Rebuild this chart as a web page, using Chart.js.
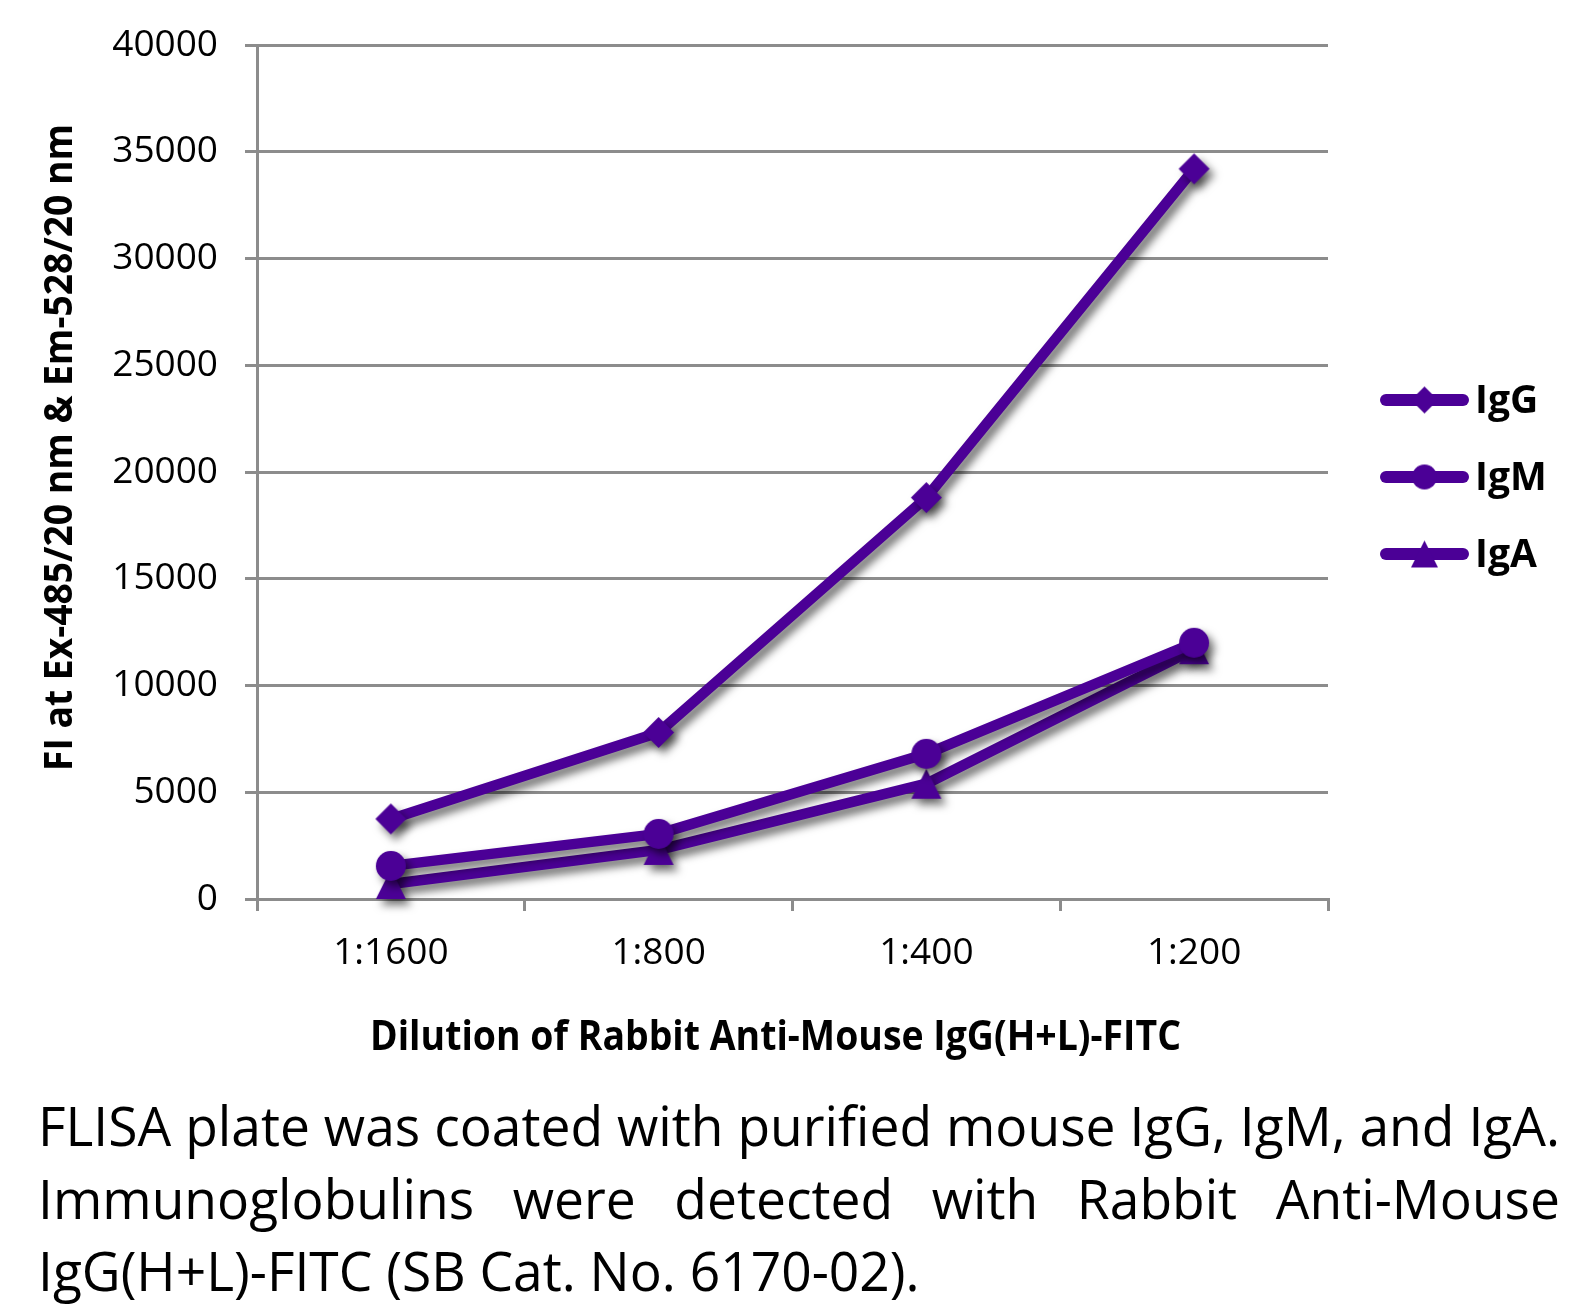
<!DOCTYPE html>
<html>
<head>
<meta charset="utf-8">
<script src="https://cdn.jsdelivr.net/npm/chart.js@4.4.0/dist/chart.umd.min.js"></script>
<style>
html,body{margin:0;padding:0;background:#fff;}
#wrap{position:relative;width:1590px;height:1306px;overflow:hidden;background:#fff;}
#c{position:absolute;left:0;top:0;}
.cap{position:absolute;left:38px;font-family:'Open Sans',sans-serif;font-size:55px;line-height:72.5px;height:72.5px;color:#000;transform-origin:0 0;white-space:nowrap;}
</style>
</head>
<body>
<div id="wrap">
<canvas id="c" width="1590" height="1306"></canvas>
</div>
<script>
// ---- data ----
const categories = ['1:1600', '1:800', '1:400', '1:200'];
const seriesNames = ['IgG', 'IgM', 'IgA'];
const igG = [3750, 7800, 18800, 34200];
const igM = [1550, 3050, 6800, 12000];
const igA = [700, 2300, 5400, 11700];
const yTickValues = [0, 5000, 10000, 15000, 20000, 25000, 30000, 35000, 40000];
const yTitle = 'FI at Ex-485/20 nm & Em-528/20 nm';
const xTitle = 'Dilution of Rabbit Anti-Mouse IgG(H+L)-FITC';
const captionLines = [
  'FLISA plate was coated with purified mouse IgG, IgM, and IgA.',
  'Immunoglobulins were detected with Rabbit Anti-Mouse',
  'IgG(H+L)-FITC (SB Cat. No. 6170-02).'
];

// ---- style ----
const PURPLE = '#4b0096';
const GRID = '#8c8c8c';

function makeMarker(type, size) {
  const cv = document.createElement('canvas');
  cv.width = size + 2; cv.height = size + 2;
  const g = cv.getContext('2d');
  const c = (size + 2) / 2, h = size / 2;
  g.fillStyle = PURPLE;
  g.beginPath();
  if (type === 'diamond') {
    g.moveTo(c, c - h); g.lineTo(c + h, c); g.lineTo(c, c + h); g.lineTo(c - h, c);
  } else if (type === 'circle') {
    g.arc(c, c, h, 0, Math.PI * 2);
  } else {
    g.moveTo(c, c - h); g.lineTo(c + h, c + h); g.lineTo(c - h, c + h);
  }
  g.closePath();
  g.fill();
  return cv;
}
const chartMarkers = [makeMarker('diamond', 31), makeMarker('circle', 30), makeMarker('triangle', 30)];
const legendMarkers = [makeMarker('diamond', 27), makeMarker('circle', 25), makeMarker('triangle', 27)];

const shadowPlugin = {
  id: 'shadow',
  beforeDatasetsDraw(chart) {
    const c = chart.ctx;
    c.save();
    c.shadowColor = 'rgba(0,0,0,0.55)';
    c.shadowBlur = 8;
    c.shadowOffsetX = 5;
    c.shadowOffsetY = 6;
  },
  afterDatasetsDraw(chart) { chart.ctx.restore(); }
};

const textPlugin = {
  id: 'texts',
  afterDraw(chart) {
    const ctx = chart.ctx;
    // y title
    ctx.save();
    ctx.fillStyle = '#000';
    ctx.font = 'bold 40px "Open Sans"';
    let w = ctx.measureText(yTitle).width;
    ctx.translate(72, 447.5);
    ctx.rotate(-Math.PI / 2);
    ctx.scale(647 / w, 1);
    ctx.textAlign = 'center';
    ctx.textBaseline = 'alphabetic';
    ctx.fillText(yTitle, 0, 0);
    ctx.restore();
    // x title
    ctx.save();
    ctx.fillStyle = '#000';
    ctx.font = 'bold 42px "Open Sans"';
    w = ctx.measureText(xTitle).width;
    ctx.translate(775.5, 1050);
    ctx.scale(811 / w, 1);
    ctx.textAlign = 'center';
    ctx.textBaseline = 'alphabetic';
    ctx.fillText(xTitle, 0, 0);
    ctx.restore();
    // legend
    ctx.save();
    chart.data.datasets.forEach((ds, i) => {
      const cy = 400 + i * 77;
      ctx.strokeStyle = PURPLE;
      ctx.lineWidth = 12;
      ctx.lineCap = 'round';
      ctx.beginPath();
      ctx.moveTo(1386, cy);
      ctx.lineTo(1463, cy);
      ctx.stroke();
      const m = legendMarkers[i];
      ctx.drawImage(m, 1424.5 - m.width / 2, cy - m.height / 2);
      ctx.fillStyle = '#000';
      ctx.font = 'bold 39px "Open Sans"';
      ctx.textAlign = 'left';
      ctx.textBaseline = 'alphabetic';
      ctx.fillText(ds.label, 1475, cy + 13);
    });
    ctx.restore();
  }
};

const series = [igG, igM, igA];
const datasets = series.map((d, i) => ({
  label: seriesNames[i],
  data: d,
  borderColor: PURPLE,
  backgroundColor: PURPLE,
  borderWidth: 10.5,
  borderJoinStyle: 'round',
  pointStyle: chartMarkers[i],
  pointRadius: 15,
  pointHoverRadius: 15,
  tension: 0,
  clip: false
}));

new Chart(document.getElementById('c'), {
  type: 'line',
  data: { labels: categories, datasets: datasets },
  options: {
    responsive: false,
    animation: false,
    events: [],
    layout: { padding: { left: 0, right: 262, top: 45, bottom: 0 } },
    plugins: { legend: { display: false }, tooltip: { enabled: false }, title: { display: false } },
    scales: {
      x: {
        type: 'category',
        offset: true,
        grid: { offset: true, drawOnChartArea: false, drawTicks: true, tickLength: 12, color: GRID, lineWidth: 3 },
        border: { display: true, color: GRID, width: 3 },
        ticks: { color: '#000', font: { family: 'Open Sans', size: 37 }, padding: 20, maxRotation: 0 },
        afterFit(s) { s.height = 407; }
      },
      y: {
        min: 0, max: 40000,
        afterBuildTicks(s) { s.ticks = yTickValues.map(v => ({ value: v })); },
        grid: { drawOnChartArea: true, drawTicks: true, tickLength: 12, color: GRID, lineWidth: 3 },
        border: { display: true, color: GRID, width: 3 },
        ticks: { color: '#000', font: { family: 'Open Sans', size: 37, lineHeight: 0.8 }, padding: 27, callback: v => String(v) },
        afterFit(s) { s.width = 257; }
      }
    }
  },
  plugins: [shadowPlugin, textPlugin]
});

// caption
const wrap = document.getElementById('wrap');
const divs = captionLines.map((t, i) => {
  const d = document.createElement('div');
  d.className = 'cap';
  d.style.top = (1089 + i * 72.5) + 'px';
  d.textContent = t;
  wrap.appendChild(d);
  return d;
});
const natural = divs[0].getBoundingClientRect().width;
const s = 1521 / natural;
divs.forEach((d, i) => {
  d.style.transform = 'scaleX(' + s + ')';
  if (i < 2) {
    d.style.whiteSpace = 'normal';
    d.style.width = (1521 / s + 1) + 'px';
    d.style.textAlign = 'justify';
    d.style.textAlignLast = 'justify';
  }
});
</script>
</body>
</html>
